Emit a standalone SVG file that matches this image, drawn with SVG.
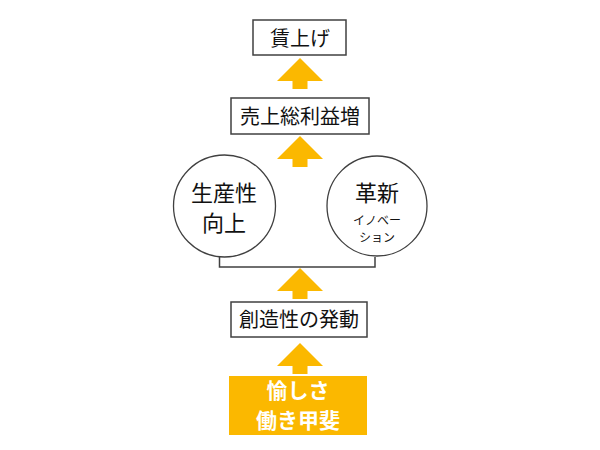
<svg xmlns="http://www.w3.org/2000/svg" width="600" height="450" viewBox="0 0 600 450">
<defs>
<style>
.box{fill:#fff;stroke:#404040;stroke-width:1.5}
.circ{fill:#fff;stroke:#404040;stroke-width:1.3}
.t{font-family:"Noto Sans CJK JP","Noto Sans CJK SC",sans-serif;fill:#111;text-anchor:middle}
.arrow{fill:#FBB800}
.wt{font-family:"Noto Sans CJK JP","Noto Sans CJK SC",sans-serif;fill:#fff;font-weight:bold;text-anchor:middle;font-size:21px}
</style>
<path id="up" d="M0,0 L23,23 L7.5,23 L7.5,31 L-7.5,31 L-7.5,23 L-23,23 Z"/>
</defs>
<rect width="600" height="450" fill="#fff"/>
<g id="connectors">
<use href="#up" class="arrow" x="300" y="58"/>
<use href="#up" class="arrow" x="300" y="136"/>
<use href="#up" class="arrow" x="300" y="268"/>
<use href="#up" class="arrow" x="300" y="343"/>
<polyline points="219.5,257 219.5,267 375,267 375,257" fill="none" stroke="#404040" stroke-width="1.5"/>
</g>
<g id="node-wage">
<rect class="box" x="253" y="20" width="93" height="35"/>
<text class="t" x="300" y="45.5" font-size="20">賃上げ</text>
</g>
<g id="node-profit">
<rect class="box" x="231" y="98" width="138" height="36"/>
<text class="t" x="300" y="123.5" font-size="20">売上総利益増</text>
</g>
<g id="node-productivity">
<circle class="circ" cx="224.5" cy="206" r="51"/>
<text class="t" x="224" y="201" font-size="22">生産性</text>
<text class="t" x="224" y="231" font-size="22">向上</text>
</g>
<g id="node-innovation">
<circle class="circ" cx="377" cy="206" r="50"/>
<text class="t" x="377" y="201" font-size="22">革新</text>
<text class="t" x="377" y="225" font-size="12">イノベー</text>
<text class="t" x="377" y="242" font-size="12">ション</text>
</g>
<g id="node-creativity">
<rect class="box" x="231" y="302" width="136" height="35"/>
<text class="t" x="299" y="327" font-size="20">創造性の発動</text>
</g>
<g id="node-joy">
<rect class="arrow" x="229" y="376" width="138" height="59"/>
<text class="wt" x="298" y="397.5">愉しさ</text>
<text class="wt" x="298" y="428">働き甲斐</text>
</g>
</svg>
